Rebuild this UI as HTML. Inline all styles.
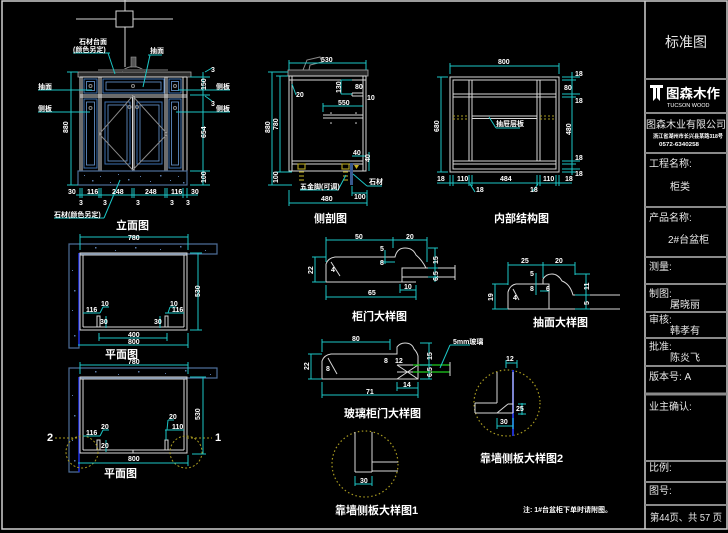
<!DOCTYPE html>
<html><head><meta charset="utf-8"><style>
html,body{margin:0;padding:0;background:#000;}
svg{display:block;}
.w{stroke:#d8d8d8;fill:none;stroke-width:1}
.g{stroke:#8a8a8a;fill:none;stroke-width:1}
.d{stroke:#1cc6c6;fill:none;stroke-width:1}
.b{stroke:#3d6fb0;fill:none;stroke-width:1}
.b2{stroke:#6a9ad6;fill:none;stroke-width:0.8}
.o{stroke:#a89a20;fill:none;stroke-width:1;stroke-dasharray:2 2}
.s{stroke:#4e6e98;fill:none;stroke-width:1.2}
text{font-family:"Liberation Sans","Noto Sans CJK SC",sans-serif;}
.t{fill:#fff;font-weight:bold;font-size:7px}
.tt{fill:#fff;font-weight:bold;font-size:11px}
.tb{fill:#e8e8e8;font-size:10px}
</style></head><body>
<svg width="728" height="533" viewBox="0 0 728 533" xmlns="http://www.w3.org/2000/svg">
<rect width="728" height="533" fill="#000"/>
<!-- frame -->
<rect x="2" y="1" width="725" height="528" fill="none" stroke="#d0d0d0" stroke-width="1.5"/>
<line x1="645" y1="1" x2="645" y2="529" stroke="#d0d0d0" stroke-width="1.5"/>

<!-- ===== TITLE BLOCK ===== -->
<g stroke="#8a8a8a" stroke-width="2">
<line x1="645" y1="79" x2="727" y2="79"/><line x1="645" y1="113" x2="727" y2="113"/>
<line x1="645" y1="153" x2="727" y2="153"/><line x1="645" y1="207" x2="727" y2="207"/>
<line x1="645" y1="257" x2="727" y2="257"/><line x1="645" y1="284" x2="727" y2="284"/>
<line x1="645" y1="312" x2="727" y2="312"/><line x1="645" y1="338" x2="727" y2="338"/>
<line x1="645" y1="366" x2="727" y2="366"/><line x1="645" y1="394" x2="727" y2="394" stroke-width="3"/>
<line x1="645" y1="461" x2="727" y2="461"/><line x1="645" y1="482" x2="727" y2="482"/>
<line x1="645" y1="505" x2="727" y2="505"/>
</g>
<text x="686" y="47" text-anchor="middle" fill="#e8e8e8" font-size="14">标准图</text>
<path d="M650 85 H663 V88 H660 V101 L657 98 V88 H656 V98 L653 101 V88 H650 Z" fill="#fff"/>
<text x="666" y="98" fill="#fff" font-weight="bold" font-size="13" textLength="54" lengthAdjust="spacingAndGlyphs">图森木作</text>
<text x="667" y="107" fill="#fff" font-size="5.5">TUCSON WOOD</text>
<text x="646" y="128" class="tb" font-size="10" textLength="80" lengthAdjust="spacingAndGlyphs">图森木业有限公司</text>
<text x="653" y="138" fill="#fff" font-weight="bold" font-size="5.5" textLength="70" lengthAdjust="spacingAndGlyphs">浙江省湖州市长兴县某路318号</text>
<text x="659" y="146" fill="#fff" font-weight="bold" font-size="5.5" textLength="40" lengthAdjust="spacingAndGlyphs">0572-6340258</text>
<text x="649" y="167" class="tb">工程名称:</text>
<text x="670" y="190" class="tb">柜类</text>
<text x="649" y="221" class="tb">产品名称:</text>
<text x="668" y="243" class="tb">2#台盆柜</text>
<text x="649" y="270" class="tb">测量:</text>
<text x="649" y="297" class="tb">制图:</text>
<text x="670" y="308" class="tb">屠晓丽</text>
<text x="649" y="323" class="tb">审核:</text>
<text x="670" y="334" class="tb" fill="#aaa">韩孝有</text>
<text x="649" y="350" class="tb">批准:</text>
<text x="670" y="361" class="tb">陈炎飞</text>
<text x="649" y="380" class="tb">版本号: A</text>
<text x="649" y="410" class="tb">业主确认:</text>
<text x="649" y="471" class="tb">比例:</text>
<text x="649" y="494" class="tb">图号:</text>
<text x="650" y="521" class="tb" font-size="9.5" textLength="72" lengthAdjust="spacingAndGlyphs">第44页、共 57 页</text>

<!-- ===== ELEVATION 立面图 ===== -->
<line x1="125" y1="0" x2="125" y2="67" class="w"/>
<line x1="76" y1="19" x2="173" y2="19" class="w"/>
<rect x="116" y="11" width="17" height="16" fill="#000" stroke="#d8d8d8"/>
<path d="M122 71 Q133 62 145 71" class="g"/>
<rect x="131" y="57" width="5" height="10" fill="#555" stroke="#999" stroke-width="0.6"/>
<line x1="98" y1="70" x2="168" y2="70" stroke="#444" stroke-width="2"/>
<rect x="78" y="72" width="113" height="5" fill="#2a2a2a" stroke="#aaa" stroke-width="0.8"/>
<g class="w">
<line x1="80" y1="77" x2="80" y2="171"/><line x1="82" y1="77" x2="82" y2="171"/>
<line x1="99" y1="77" x2="99" y2="171"/><line x1="101" y1="77" x2="101" y2="171"/>
<line x1="165" y1="77" x2="165" y2="171"/><line x1="167" y1="77" x2="167" y2="171"/>
<line x1="183" y1="77" x2="183" y2="171"/><line x1="187" y1="77" x2="187" y2="171"/>
<line x1="132.5" y1="96" x2="132.5" y2="171"/><line x1="134" y1="96" x2="134" y2="171"/>
<line x1="80" y1="77" x2="187" y2="77"/><line x1="80" y1="95" x2="187" y2="95"/>
<line x1="80" y1="97" x2="187" y2="97"/><line x1="80" y1="171" x2="187" y2="171"/>
</g>
<!-- panels -->
<g>
<rect x="84" y="79" width="13" height="14" class="b"/><rect x="86.5" y="81.5" width="8" height="9" class="b2"/>
<rect x="103" y="79" width="61" height="14" class="b"/><rect x="106" y="82" width="55" height="8" class="b2"/>
<rect x="169" y="79" width="12" height="14" class="b"/><rect x="171.5" y="81.5" width="7" height="9" class="b2"/>
<rect x="84" y="99" width="13" height="69" class="b"/><rect x="86.5" y="102" width="8" height="63" class="b2"/>
<rect x="169" y="99" width="12" height="69" class="b"/><rect x="171.5" y="102" width="7" height="63" class="b2"/>
<rect x="105" y="102" width="25" height="62" class="b"/><rect x="108" y="105" width="19" height="56" class="b2"/>
<rect x="137" y="102" width="25" height="62" class="b"/><rect x="140" y="105" width="19" height="56" class="b2"/>
<circle cx="90.5" cy="86" r="1.5" class="g"/><circle cx="175" cy="86" r="1.5" class="g"/><circle cx="133" cy="86" r="1.5" class="g"/>
<circle cx="90.5" cy="108" r="1.5" class="g"/><circle cx="175" cy="108" r="1.5" class="g"/>
<circle cx="129.5" cy="107" r="1.5" class="g"/><circle cx="137" cy="107" r="1.5" class="g"/>
</g>
<path d="M132.7 96 L99.3 134 L132.7 170 L167.3 134 Z" stroke="#8a8a8a" fill="none" stroke-width="1"/>
<rect x="78" y="171" width="109" height="14" fill="#05060c" class="s"/>
<g fill="#5a7aa8">
<rect x="84" y="175" width="1" height="1"/><rect x="92" y="180" width="1.5" height="1.5"/><rect x="100" y="176" width="1" height="1"/>
<rect x="110" y="182" width="1" height="1"/><rect x="118" y="174" width="1" height="1"/><rect x="128" y="179" width="1.5" height="1.5"/>
<rect x="140" y="176" width="1" height="1"/><rect x="150" y="181" width="1" height="1"/><rect x="160" y="175" width="1.5" height="1.5"/>
<rect x="170" y="180" width="1" height="1"/><rect x="178" y="176" width="1" height="1"/><rect x="183" y="182" width="1.5" height="1.5"/>
</g>
<!-- elevation dims -->
<g class="d">
<line x1="71" y1="72" x2="71" y2="185"/><line x1="67" y1="72" x2="78" y2="72"/><line x1="67" y1="185" x2="78" y2="185"/>
<line x1="203" y1="72" x2="203" y2="185"/>
<line x1="190" y1="77" x2="210" y2="77"/><line x1="190" y1="95" x2="210" y2="95"/><line x1="190" y1="171" x2="210" y2="171"/><line x1="190" y1="185" x2="210" y2="185"/>
<line x1="76" y1="195" x2="198" y2="195"/>
<line x1="80" y1="188" x2="80" y2="198"/><line x1="82" y1="188" x2="82" y2="198"/><line x1="99" y1="188" x2="99" y2="198"/>
<line x1="101" y1="188" x2="101" y2="198"/><line x1="132" y1="188" x2="132" y2="198"/><line x1="134" y1="188" x2="134" y2="198"/>
<line x1="165" y1="188" x2="165" y2="198"/><line x1="167" y1="188" x2="167" y2="198"/><line x1="183" y1="188" x2="183" y2="198"/><line x1="187" y1="188" x2="187" y2="198"/>
<!-- leaders -->
<line x1="73" y1="53" x2="110" y2="53"/><line x1="108" y1="53" x2="115" y2="74"/>
<line x1="148" y1="55" x2="162" y2="55"/><line x1="150" y1="55" x2="143" y2="87"/>
<line x1="38" y1="90" x2="92" y2="90"/><line x1="38" y1="112" x2="90" y2="112"/>
<line x1="178" y1="90" x2="230" y2="90"/><line x1="176" y1="112" x2="230" y2="112"/>
<line x1="54" y1="218" x2="104" y2="218"/><line x1="104" y1="218" x2="120" y2="180"/>
<line x1="205" y1="72" x2="212" y2="68"/><line x1="205" y1="96" x2="212" y2="101"/>
</g>
<text class="t" transform="translate(68,133) rotate(-90)">880</text>
<text class="t" transform="translate(206,90) rotate(-90)">150</text>
<text class="t" transform="translate(206,138) rotate(-90)">654</text>
<text class="t" transform="translate(206,183) rotate(-90)">100</text>
<text class="t" x="211" y="72">3</text><text class="t" x="211" y="106">3</text>
<text class="t" x="68" y="194">30</text><text class="t" x="87" y="194">116</text><text class="t" x="112" y="194">248</text>
<text class="t" x="145" y="194">248</text><text class="t" x="171" y="194">116</text><text class="t" x="191" y="194">30</text>
<text class="t" x="79" y="205">3</text><text class="t" x="103" y="205">3</text><text class="t" x="136" y="205">3</text>
<text class="t" x="170" y="205">3</text><text class="t" x="186" y="205">3</text>
<text class="t" x="79" y="44">石材台面</text><text class="t" x="73" y="52">(颜色另定)</text>
<text class="t" x="150" y="53">抽面</text>
<text class="t" x="38" y="89">抽面</text><text class="t" x="38" y="111">侧板</text>
<text class="t" x="216" y="89">侧板</text><text class="t" x="216" y="111">侧板</text>
<text class="t" x="54" y="217">石材(颜色另定)</text>
<text class="tt" x="116" y="229">立面图</text>

<!-- ===== SIDE SECTION 侧剖图 ===== -->
<path d="M303 70 L307 60 L320 57 L322 62 L310 65 L309 70" class="g"/>
<rect x="288" y="70" width="80" height="6" fill="#2a2a2a" stroke="#aaa" stroke-width="0.8"/>
<g class="w">
<rect x="289" y="76" width="77" height="95"/>
<line x1="292" y1="76" x2="292" y2="171"/><line x1="363" y1="76" x2="363" y2="171"/>
<line x1="289" y1="80" x2="366" y2="80"/>
<line x1="292" y1="161" x2="363" y2="161"/><line x1="292" y1="164" x2="363" y2="164"/>
<line x1="323" y1="115" x2="363" y2="115"/><line x1="323" y1="118" x2="363" y2="118"/>
<line x1="352" y1="93" x2="363" y2="93"/><line x1="352" y1="96" x2="363" y2="96"/><line x1="352" y1="93" x2="352" y2="96"/>
</g>
<g fill="#ddd"><circle cx="331" cy="113" r="0.8"/><circle cx="356" cy="113" r="0.8"/><circle cx="331" cy="123" r="0.8"/><circle cx="356" cy="123" r="0.8"/></g>
<g stroke="#a89a20" stroke-width="1.2" fill="none">
<rect x="298" y="164" width="7" height="5"/><line x1="299" y1="172" x2="304" y2="172"/><line x1="299" y1="176" x2="304" y2="176"/><line x1="299" y1="180" x2="304" y2="180"/>
<rect x="342" y="164" width="7" height="5"/><line x1="343" y1="172" x2="348" y2="172"/><line x1="343" y1="176" x2="348" y2="176"/><line x1="343" y1="180" x2="348" y2="180"/>
</g>
<path d="M354 165 L359 165 L356.5 169 Z" fill="#c8b020"/>
<rect x="350" y="163" width="3" height="22" fill="#3a5a90"/>
<g class="d">
<line x1="272" y1="72" x2="272" y2="185"/><line x1="268" y1="72" x2="288" y2="72"/><line x1="268" y1="185" x2="292" y2="185"/>
<line x1="280" y1="76" x2="280" y2="172"/><line x1="276" y1="76" x2="288" y2="76"/><line x1="276" y1="172" x2="292" y2="172"/>
<line x1="289" y1="63" x2="366" y2="63"/><line x1="289" y1="60" x2="289" y2="70"/><line x1="366" y1="60" x2="366" y2="70"/>
<line x1="289" y1="203" x2="367" y2="203"/><line x1="289" y1="190" x2="289" y2="206"/><line x1="367" y1="190" x2="367" y2="206"/>
<line x1="341" y1="80" x2="341" y2="94"/><line x1="341" y1="94" x2="352" y2="94"/><line x1="341" y1="80" x2="352" y2="80"/>
<line x1="323" y1="106" x2="363" y2="106"/><line x1="323" y1="103" x2="323" y2="112"/>
<line x1="352" y1="156" x2="366" y2="156"/><line x1="369" y1="152" x2="369" y2="171"/>
<line x1="352" y1="193" x2="367" y2="193"/><line x1="352" y1="186" x2="352" y2="196"/>
<line x1="300" y1="190" x2="338" y2="190"/><line x1="338" y1="190" x2="346" y2="175"/>
<line x1="367" y1="186" x2="382" y2="186"/><line x1="367" y1="186" x2="353" y2="174"/>
<line x1="292" y1="84" x2="296" y2="95"/>
</g>
<text class="t" transform="translate(270,133) rotate(-90)">880</text>
<text class="t" transform="translate(278,130) rotate(-90)">780</text>
<text class="t" transform="translate(278,183) rotate(-90)">100</text>
<text class="t" x="321" y="62">530</text><text class="t" x="321" y="201">480</text>
<text class="t" x="296" y="97">20</text>
<text class="t" transform="translate(341,93) rotate(-90)">130</text>
<text class="t" x="355" y="89">80</text><text class="t" x="367" y="100">10</text>
<text class="t" x="338" y="105">550</text>
<text class="t" x="353" y="155">40</text><text class="t" transform="translate(370,162) rotate(-90)">40</text>
<text class="t" x="354" y="199">100</text>
<text class="t" x="300" y="189">五金脚(可调)</text>
<text class="t" x="369" y="184">石材</text>
<text class="tt" x="314" y="222">侧剖图</text>

<!-- ===== INTERNAL 内部结构图 ===== -->
<g class="w">
<rect x="450" y="77" width="109" height="95"/>
<rect x="453" y="80" width="103" height="89"/>
<line x1="469" y1="80" x2="469" y2="161"/><line x1="472" y1="80" x2="472" y2="161"/>
<line x1="537" y1="80" x2="537" y2="161"/><line x1="540" y1="80" x2="540" y2="161"/>
<line x1="453" y1="94" x2="556" y2="94"/><line x1="453" y1="97" x2="556" y2="97"/>
<line x1="472" y1="116" x2="537" y2="116"/><line x1="472" y1="118.5" x2="537" y2="118.5"/>
<line x1="453" y1="161" x2="556" y2="161"/><line x1="453" y1="164" x2="556" y2="164"/>
</g>
<g class="o"><line x1="453" y1="116" x2="469" y2="116"/><line x1="453" y1="119" x2="469" y2="119"/>
<line x1="540" y1="116" x2="556" y2="116"/><line x1="540" y1="119" x2="556" y2="119"/></g>
<g class="d">
<line x1="450" y1="66" x2="559" y2="66"/><line x1="450" y1="63" x2="450" y2="74"/><line x1="559" y1="63" x2="559" y2="74"/>
<line x1="441" y1="77" x2="441" y2="172"/><line x1="437" y1="77" x2="448" y2="77"/><line x1="437" y1="172" x2="448" y2="172"/>
<line x1="572" y1="72" x2="572" y2="175"/>
<line x1="562" y1="77" x2="580" y2="77"/><line x1="562" y1="80" x2="576" y2="80"/><line x1="562" y1="94" x2="580" y2="94"/>
<line x1="562" y1="97" x2="576" y2="97"/><line x1="562" y1="161" x2="580" y2="161"/><line x1="562" y1="164" x2="576" y2="164"/>
<line x1="562" y1="169" x2="580" y2="169"/><line x1="562" y1="172" x2="576" y2="172"/>
<line x1="437" y1="183" x2="572" y2="183"/>
<line x1="450" y1="175" x2="450" y2="186"/><line x1="453" y1="175" x2="453" y2="186"/><line x1="469" y1="175" x2="469" y2="186"/>
<line x1="472" y1="175" x2="472" y2="186"/><line x1="537" y1="175" x2="537" y2="186"/><line x1="540" y1="175" x2="540" y2="186"/>
<line x1="556" y1="175" x2="556" y2="186"/><line x1="559" y1="175" x2="559" y2="186"/>
<line x1="470" y1="184" x2="475" y2="192"/><line x1="538" y1="184" x2="532" y2="192"/>
<line x1="489" y1="117" x2="496" y2="128"/><line x1="496" y1="128" x2="520" y2="128"/>
</g>
<text class="t" x="498" y="64">800</text>
<text class="t" transform="translate(439,132) rotate(-90)">680</text>
<text class="t" x="575" y="76">18</text><text class="t" x="564" y="90">80</text><text class="t" x="575" y="103">18</text>
<text class="t" transform="translate(571,135) rotate(-90)">480</text>
<text class="t" x="575" y="160">18</text><text class="t" x="575" y="176">18</text>
<text class="t" x="437" y="181">18</text><text class="t" x="457" y="181">110</text><text class="t" x="500" y="181">484</text>
<text class="t" x="543" y="181">110</text><text class="t" x="565" y="181">18</text>
<text class="t" x="476" y="192">18</text><text class="t" x="530" y="192">18</text>
<text class="t" x="496" y="126">抽屉层板</text>
<text class="tt" x="494" y="222">内部结构图</text>

<!-- ===== PLAN 1 ===== -->
<path d="M69 244 H217 V254 H79 V348 H69 Z" fill="#05060c" class="s"/>
<g fill="#5a7aa8">
<rect x="95" y="247" width="1.5" height="1.5"/><rect x="115" y="250" width="1" height="1"/><rect x="135" y="247" width="1.5" height="1.5"/>
<rect x="160" y="249" width="1" height="1"/><rect x="180" y="246" width="1.5" height="1.5"/><rect x="205" y="250" width="1" height="1"/>
<rect x="72" y="270" width="1" height="1"/><rect x="74" y="290" width="1.5" height="1.5"/><rect x="72" y="310" width="1" height="1"/><rect x="74" y="335" width="1.5" height="1.5"/>
</g>
<line x1="79" y1="253" x2="79" y2="346" stroke="#1828d8" stroke-width="1.5"/>
<g class="w">
<rect x="80" y="253" width="107" height="77"/>
<line x1="83" y1="255" x2="83" y2="327"/><line x1="184" y1="255" x2="184" y2="327"/>
<line x1="80" y1="255" x2="187" y2="255"/><line x1="83" y1="327" x2="184" y2="327"/>
<rect x="97" y="316" width="3" height="11"/><rect x="165" y="316" width="3" height="11"/>
</g>
<g class="d">
<line x1="80" y1="237" x2="188" y2="237"/><line x1="80" y1="234" x2="80" y2="250"/><line x1="188" y1="234" x2="188" y2="250"/>
<line x1="198" y1="253" x2="198" y2="330"/><line x1="190" y1="253" x2="202" y2="253"/><line x1="190" y1="330" x2="202" y2="330"/>
<line x1="99" y1="338" x2="167" y2="338"/><line x1="99" y1="333" x2="99" y2="341"/><line x1="167" y1="333" x2="167" y2="341"/>
<line x1="78" y1="345" x2="188" y2="345"/><line x1="188" y1="333" x2="188" y2="348"/>
<line x1="83" y1="313" x2="100" y2="313"/><line x1="165" y1="313" x2="184" y2="313"/>
<line x1="100" y1="313" x2="103" y2="307"/><line x1="103" y1="307" x2="109" y2="307"/>
<line x1="168" y1="313" x2="170" y2="307"/><line x1="170" y1="307" x2="176" y2="307"/>
<line x1="106" y1="316" x2="106" y2="328"/><line x1="160" y1="316" x2="160" y2="328"/>
</g>
<text class="t" x="128" y="240">780</text>
<text class="t" transform="translate(200,297) rotate(-90)">530</text>
<text class="t" x="128" y="337">400</text><text class="t" x="128" y="344">800</text>
<text class="t" x="86" y="312">116</text><text class="t" x="172" y="312">116</text>
<text class="t" x="101" y="306">10</text><text class="t" x="170" y="306">10</text>
<text class="t" x="100" y="324">30</text><text class="t" x="154" y="324">30</text>
<text class="tt" x="105" y="358">平面图</text>

<!-- ===== PLAN 2 ===== -->
<path d="M69 368 H217 V378 H79 V472 H69 Z" fill="#05060c" class="s"/>
<g fill="#5a7aa8">
<rect x="95" y="371" width="1.5" height="1.5"/><rect x="118" y="374" width="1" height="1"/><rect x="138" y="371" width="1.5" height="1.5"/>
<rect x="165" y="373" width="1" height="1"/><rect x="185" y="370" width="1.5" height="1.5"/><rect x="210" y="374" width="1" height="1"/>
<rect x="72" y="395" width="1" height="1"/><rect x="74" y="415" width="1.5" height="1.5"/><rect x="72" y="440" width="1" height="1"/><rect x="74" y="460" width="1.5" height="1.5"/>
</g>
<line x1="79" y1="377" x2="79" y2="472" stroke="#1828d8" stroke-width="1.5"/>
<g class="w">
<rect x="80" y="377" width="107" height="76"/>
<line x1="83" y1="379" x2="83" y2="450"/><line x1="184" y1="379" x2="184" y2="450"/>
<line x1="80" y1="379" x2="187" y2="379"/><line x1="83" y1="450" x2="184" y2="450"/>
<rect x="97" y="440" width="3" height="10"/><rect x="165" y="440" width="3" height="10"/>
<line x1="133" y1="450" x2="133" y2="453"/>
</g>
<g class="o">
<line x1="55" y1="438" x2="80" y2="438"/><line x1="187" y1="438" x2="212" y2="438"/>
<circle cx="82" cy="452" r="16"/><circle cx="186" cy="452" r="16"/>
</g>
<g class="d">
<line x1="80" y1="365" x2="188" y2="365"/><line x1="80" y1="362" x2="80" y2="374"/><line x1="188" y1="362" x2="188" y2="374"/>
<line x1="203" y1="377" x2="203" y2="454"/><line x1="190" y1="377" x2="206" y2="377"/><line x1="192" y1="454" x2="206" y2="454"/>
<line x1="78" y1="463" x2="188" y2="463"/><line x1="188" y1="455" x2="188" y2="466"/>
<line x1="83" y1="436" x2="100" y2="436"/><line x1="165" y1="430" x2="184" y2="430"/>
<line x1="100" y1="436" x2="103" y2="430"/><line x1="103" y1="430" x2="109" y2="430"/>
<line x1="167" y1="430" x2="168" y2="420"/><line x1="168" y1="420" x2="174" y2="420"/>
<line x1="106" y1="440" x2="106" y2="452"/><line x1="166" y1="430" x2="166" y2="440"/>
</g>
<text class="t" x="128" y="364">780</text>
<text class="t" transform="translate(200,420) rotate(-90)">530</text>
<text class="t" x="128" y="461">800</text>
<text class="t" x="86" y="435">116</text><text class="t" x="101" y="429">20</text>
<text class="t" x="172" y="429">110</text><text class="t" x="169" y="419">20</text><text class="t" x="101" y="448">20</text>
<text class="tt" x="47" y="441" font-size="9">2</text><text class="tt" x="215" y="441" font-size="9">1</text>
<text class="tt" x="104" y="477">平面图</text>

<!-- ===== DETAIL 柜门大样图 ===== -->
<path d="M326 282 V264 Q328 258 335 257 H395 Q397 248 405 248 Q413 248 416 255 Q422 260 426 268 H402 V282 Z" class="w"/>
<line x1="326" y1="282" x2="345" y2="282" class="w"/>
<path d="M402 268 H455 M402 277 H455 M455 265 V280 M402 268 V277" class="w"/>
<line x1="402" y1="282" x2="416" y2="282" class="w"/>
<line x1="331" y1="262" x2="340" y2="276" class="w"/>
<g class="d">
<line x1="326" y1="240" x2="427" y2="240"/><line x1="326" y1="237" x2="326" y2="262"/><line x1="393" y1="237" x2="393" y2="248"/><line x1="427" y1="237" x2="427" y2="262"/>
<line x1="315" y1="257" x2="315" y2="282"/><line x1="312" y1="257" x2="326" y2="257"/><line x1="312" y1="282" x2="326" y2="282"/>
<line x1="326" y1="297" x2="416" y2="297"/><line x1="326" y1="285" x2="326" y2="300"/><line x1="416" y1="285" x2="416" y2="300"/>
<line x1="400" y1="290" x2="416" y2="290"/><line x1="400" y1="284" x2="400" y2="293"/>
<line x1="435" y1="248" x2="435" y2="282"/><line x1="428" y1="248" x2="438" y2="248"/><line x1="428" y1="268" x2="438" y2="268"/><line x1="428" y1="277" x2="438" y2="277"/>
<line x1="385" y1="250" x2="385" y2="264"/><line x1="380" y1="262" x2="395" y2="262"/>
</g>
<text class="t" x="355" y="239">50</text><text class="t" x="406" y="239">20</text>
<text class="t" transform="translate(313,274) rotate(-90)">22</text>
<text class="t" x="368" y="295">65</text><text class="t" x="404" y="289">10</text>
<text class="t" transform="translate(438,264) rotate(-90)">15</text>
<text class="t" transform="translate(438,281) rotate(-90)">6.5</text>
<text class="t" x="380" y="251">5</text><text class="t" x="380" y="265">8</text><text class="t" x="331" y="272">4</text>
<text class="tt" x="352" y="320" font-size="10">柜门大样图</text>

<!-- ===== DETAIL 玻璃柜门大样图 ===== -->
<path d="M322 379 V361 Q324 355 331 354 H397 V347 Q400 343 405 343 Q412 343 414 349 Q417 352 418 356 V379 Z" class="w"/>
<path d="M397 365 H418 M397 372 H418 M397 365 L418 379 M397 379 L418 365" class="w" stroke-width="0.8"/>
<line x1="413" y1="365" x2="450" y2="365" stroke="#20d020" stroke-width="1.2"/>
<line x1="413" y1="372" x2="450" y2="372" stroke="#20d020" stroke-width="1.2"/>
<line x1="450" y1="362" x2="450" y2="376" class="w"/>
<line x1="328" y1="358" x2="337" y2="374" class="w"/>
<g class="d">
<line x1="322" y1="342" x2="390" y2="342"/><line x1="322" y1="339" x2="322" y2="352"/><line x1="390" y1="339" x2="390" y2="350"/>
<line x1="311" y1="354" x2="311" y2="379"/><line x1="308" y1="354" x2="322" y2="354"/><line x1="308" y1="379" x2="322" y2="379"/>
<line x1="322" y1="395" x2="418" y2="395"/><line x1="322" y1="382" x2="322" y2="398"/><line x1="418" y1="382" x2="418" y2="398"/>
<line x1="397" y1="388" x2="418" y2="388"/><line x1="397" y1="382" x2="397" y2="391"/>
<line x1="429" y1="343" x2="429" y2="379"/><line x1="420" y1="343" x2="432" y2="343"/><line x1="420" y1="365" x2="432" y2="365"/><line x1="420" y1="379" x2="432" y2="379"/>
<line x1="440" y1="368" x2="450" y2="345"/><line x1="450" y1="345" x2="470" y2="345"/>
</g>
<text class="t" x="352" y="341">80</text>
<text class="t" transform="translate(309,370) rotate(-90)">22</text>
<text class="t" x="366" y="394">71</text><text class="t" x="403" y="387">14</text>
<text class="t" transform="translate(432,360) rotate(-90)">15</text>
<text class="t" transform="translate(432,377) rotate(-90)">6.5</text>
<text class="t" x="384" y="363">8</text><text class="t" x="395" y="363">12</text><text class="t" x="326" y="371">8</text>
<text class="t" x="453" y="344">5mm玻璃</text>
<text class="tt" x="344" y="417" font-size="10">玻璃柜门大样图</text>

<!-- ===== DETAIL 抽面大样图 ===== -->
<path d="M508 309 V292 Q510 285 516 284 H549 V309 M543 284 V279 Q546 274 552 274 Q558 274 562 281 Q570 284 573 295 H620 M549 309 H620" class="w"/>
<line x1="508" y1="309" x2="549" y2="309" class="w"/>
<line x1="513" y1="289" x2="519" y2="300" class="w"/>
<g class="d">
<line x1="508" y1="265" x2="575" y2="265"/><line x1="508" y1="262" x2="508" y2="285"/><line x1="543" y1="262" x2="543" y2="278"/><line x1="575" y1="262" x2="575" y2="275"/>
<line x1="495" y1="284" x2="495" y2="309"/><line x1="492" y1="284" x2="508" y2="284"/><line x1="492" y1="309" x2="508" y2="309"/>
<line x1="586" y1="274" x2="586" y2="309"/><line x1="575" y1="274" x2="590" y2="274"/><line x1="575" y1="295" x2="590" y2="295"/><line x1="575" y1="309" x2="590" y2="309"/>
<line x1="536" y1="273" x2="536" y2="295"/><line x1="540" y1="291" x2="549" y2="291"/>
</g>
<text class="t" x="521" y="263">25</text><text class="t" x="555" y="263">20</text>
<text class="t" transform="translate(493,301) rotate(-90)">19</text>
<text class="t" transform="translate(589,290) rotate(-90)">11</text>
<text class="t" transform="translate(589,305) rotate(-90)">5</text>
<text class="t" x="530" y="276">5</text><text class="t" x="530" y="291">8</text><text class="t" x="546" y="291">6</text><text class="t" x="513" y="300">4</text>
<text class="tt" x="533" y="326" font-size="10">抽面大样图</text>

<!-- ===== DETAIL 靠墙侧板大样图2 ===== -->
<circle cx="507" cy="403" r="33" stroke="#a89a20" stroke-width="1.2" stroke-dasharray="1.5 2.5" fill="none"/>
<line x1="513" y1="370" x2="513" y2="436" stroke="#2030c8" stroke-width="2"/>
<g class="w">
<line x1="497" y1="372" x2="497" y2="403"/><line x1="513" y1="372" x2="513" y2="413"/>
<line x1="475" y1="403" x2="497" y2="403"/><line x1="475" y1="413" x2="513" y2="413"/>
<line x1="475" y1="403" x2="475" y2="413"/><line x1="497" y1="413" x2="508" y2="404"/><line x1="508" y1="404" x2="513" y2="404"/>
</g>
<g class="d">
<line x1="506" y1="363" x2="517" y2="363"/><line x1="506" y1="360" x2="506" y2="368"/><line x1="517" y1="360" x2="517" y2="368"/>
<line x1="497" y1="426" x2="513" y2="426"/><line x1="497" y1="418" x2="497" y2="429"/><line x1="513" y1="418" x2="513" y2="429"/>
<line x1="518" y1="404" x2="526" y2="404"/><line x1="518" y1="414" x2="526" y2="414"/><line x1="522" y1="403" x2="522" y2="415"/>
</g>
<text class="t" x="506" y="361">12</text><text class="t" x="500" y="424">30</text><text class="t" x="516" y="411">25</text>
<text class="tt" x="480" y="462" font-size="10">靠墙侧板大样图2</text>
<text class="t" x="523" y="512" font-size="7.5">注: 1#台盆柜下单时请附图。</text>

<!-- ===== DETAIL 靠墙侧板大样图1 ===== -->
<circle cx="365" cy="464" r="33" stroke="#a89a20" stroke-width="1.2" stroke-dasharray="1.5 2.5" fill="none"/>
<g class="w">
<line x1="355" y1="432" x2="355" y2="472"/><line x1="372" y1="432" x2="372" y2="472"/>
<line x1="355" y1="472" x2="372" y2="472"/>
<line x1="372" y1="462" x2="398" y2="462"/><line x1="372" y1="471" x2="398" y2="471"/>
</g>
<g class="d">
<line x1="355" y1="484" x2="372" y2="484"/><line x1="355" y1="476" x2="355" y2="486"/><line x1="372" y1="476" x2="372" y2="486"/>
</g>
<text class="t" x="360" y="483">30</text>
<text class="tt" x="335" y="514" font-size="10">靠墙侧板大样图1</text>
</svg>
</body></html>
